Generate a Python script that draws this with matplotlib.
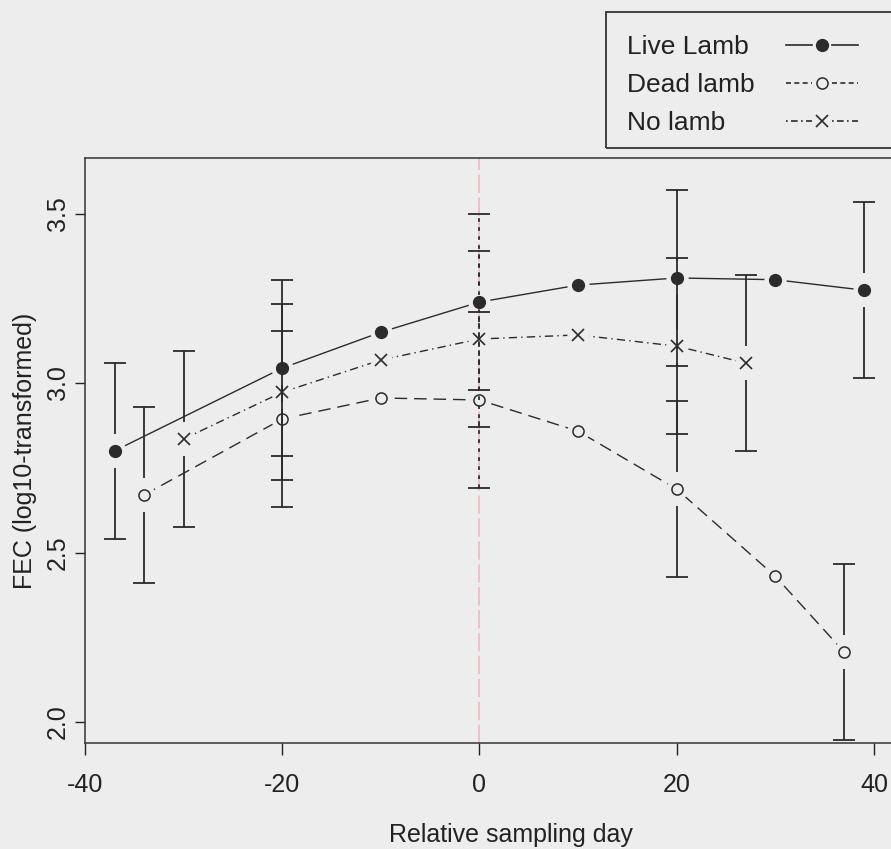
import numpy as np
import matplotlib.pyplot as plt
from matplotlib.lines import Line2D
from matplotlib.patches import Rectangle

plt.rcParams['font.family'] = ['Liberation Sans', 'DejaVu Sans']
plt.rcParams['axes.unicode_minus'] = False

# values (NaN = no error bar drawn at that day)
live_x = [-37, -20, -10, 0, 10, 20, 30, 39]
live_y = [2.80, 3.044, 3.15, 3.239, 3.289, 3.31, 3.305, 3.274]
live_err = [0.26, 0.26, np.nan, 0.26, np.nan, 0.26, np.nan, 0.26]

dead_x = [-34, -20, -10, 0, 10, 20, 30, 37]
dead_y = [2.67, 2.894, 2.956, 2.95, 2.858, 2.687, 2.43, 2.206]
dead_err = [0.26, 0.26, np.nan, 0.26, np.nan, 0.26, np.nan, 0.26]

nolamb_x = [-30, -20, -10, 0, 10, 20, 27]
nolamb_y = [2.835, 2.973, 3.068, 3.13, 3.142, 3.109, 3.059]
nolamb_err = [0.26, 0.26, np.nan, 0.26, np.nan, 0.26, 0.26]

labels = ['Live Lamb', 'Dead lamb', 'No lamb']

bg = '#ededed'
ink = '#2b2b2b'
W, H = 891, 849

fig = plt.figure(figsize=(W / 100, H / 100), dpi=100, facecolor=bg)
# axes run past the right edge of the figure, like the cropped scan
ax = fig.add_axes([85 / W, 106 / H, 851 / W, 585 / H])
ax.set_facecolor(bg)

ax.axvline(0, color='#f2b3bd', lw=1.1, ls=(0, (12, 3)), zorder=1)

styles = [
    ('-', dict(marker='o', ms=8.5, mfc=ink, mec=ink)),
    ((0, (9, 5)), dict(marker='o', ms=8, mfc='none', mec=ink, mew=1.1)),
    ((0, (6, 3, 1, 3)), dict(marker='x', ms=9, mec=ink, mew=1.2)),
]
key_ls = ['-', (0, (3, 2)), (0, (1, 2, 4, 2))]
data = [(live_x, live_y, live_err), (dead_x, dead_y, dead_err), (nolamb_x, nolamb_y, nolamb_err)]

gap = 0.05
for (x, y, err), (ls, mk) in zip(data, styles):
    x = np.array(x)
    y = np.array(y)
    err = np.array(err)
    # connecting line, with a background disc under each point to leave the gap
    ax.plot(x, y, color=ink, lw=1.0, ls=ls, zorder=2)
    ax.plot(x, y, ls='none', marker='o', ms=16, mfc=bg, mec='none', zorder=3)
    # error bars with a gap round the point
    has = ~np.isnan(err)
    for xi, yi, ei in zip(x[has], y[has], err[has]):
        bls = (0, (2, 3)) if xi == 0 else '-'
        ax.vlines(xi, yi + gap, yi + ei, color=ink, lw=1.3, ls=bls, zorder=4)
        ax.vlines(xi, yi - ei, yi - gap, color=ink, lw=1.3, ls=bls, zorder=4)
    ax.plot(x[has], y[has] + err[has], ls='none', marker='_', ms=16, mew=1.3, mec=ink, zorder=4)
    ax.plot(x[has], y[has] - err[has], ls='none', marker='_', ms=16, mew=1.3, mec=ink, zorder=4)
    ax.plot(x, y, ls='none', zorder=5, **mk)

ax.set_xlim(-40, 46.3)
ax.set_ylim(1.938, 3.664)
ax.set_xticks([-40, -20, 0, 20, 40])
ax.set_yticks([2.0, 2.5, 3.0, 3.5])
ax.set_yticklabels(['2.0', '2.5', '3.0', '3.5'], rotation=90, va='center')
ax.tick_params(axis='x', length=8.5, width=1, pad=13, labelsize=18, colors='#222222')
ax.tick_params(axis='y', length=7, width=1, pad=4, labelsize=18, colors='#222222')
for s in ['left', 'top', 'bottom']:
    ax.spines[s].set_color('#333333')
    ax.spines[s].set_linewidth(1.1)
ax.spines['right'].set_visible(False)

ax.set_xlabel('Relative sampling day', fontsize=18, color='#222222', labelpad=19)
ax.set_ylabel('FEC (log10-transformed)', fontsize=18, color='#222222', labelpad=6)


# legend drawn by hand: text on the left, key on the right, box runs off the edge
def fx(px):
    return px / W


def fy(py):
    return 1 - py / H


fig.patches.append(Rectangle((fx(606), fy(148)), 0.5, 136 / H,
                             transform=fig.transFigure, fill=False, ec='#333333', lw=1.3))
rows_y = [45, 83, 121]
for lab, (ls, mk), kls, ry in zip(labels, styles, key_ls, rows_y):
    fig.text(fx(627), fy(ry), lab, fontsize=19, color='#222222', va='center_baseline', ha='left')
    fig.add_artist(Line2D([fx(786), fx(812)], [fy(ry), fy(ry)], color=ink, lw=1.2, ls=kls,
                          transform=fig.transFigure))
    fig.add_artist(Line2D([fx(832), fx(858)], [fy(ry), fy(ry)], color=ink, lw=1.2, ls=kls,
                          transform=fig.transFigure))
    fig.add_artist(Line2D([fx(822)], [fy(ry)], ls='none', transform=fig.transFigure, **mk))

fig.savefig('out.png', dpi=100, facecolor=bg)
